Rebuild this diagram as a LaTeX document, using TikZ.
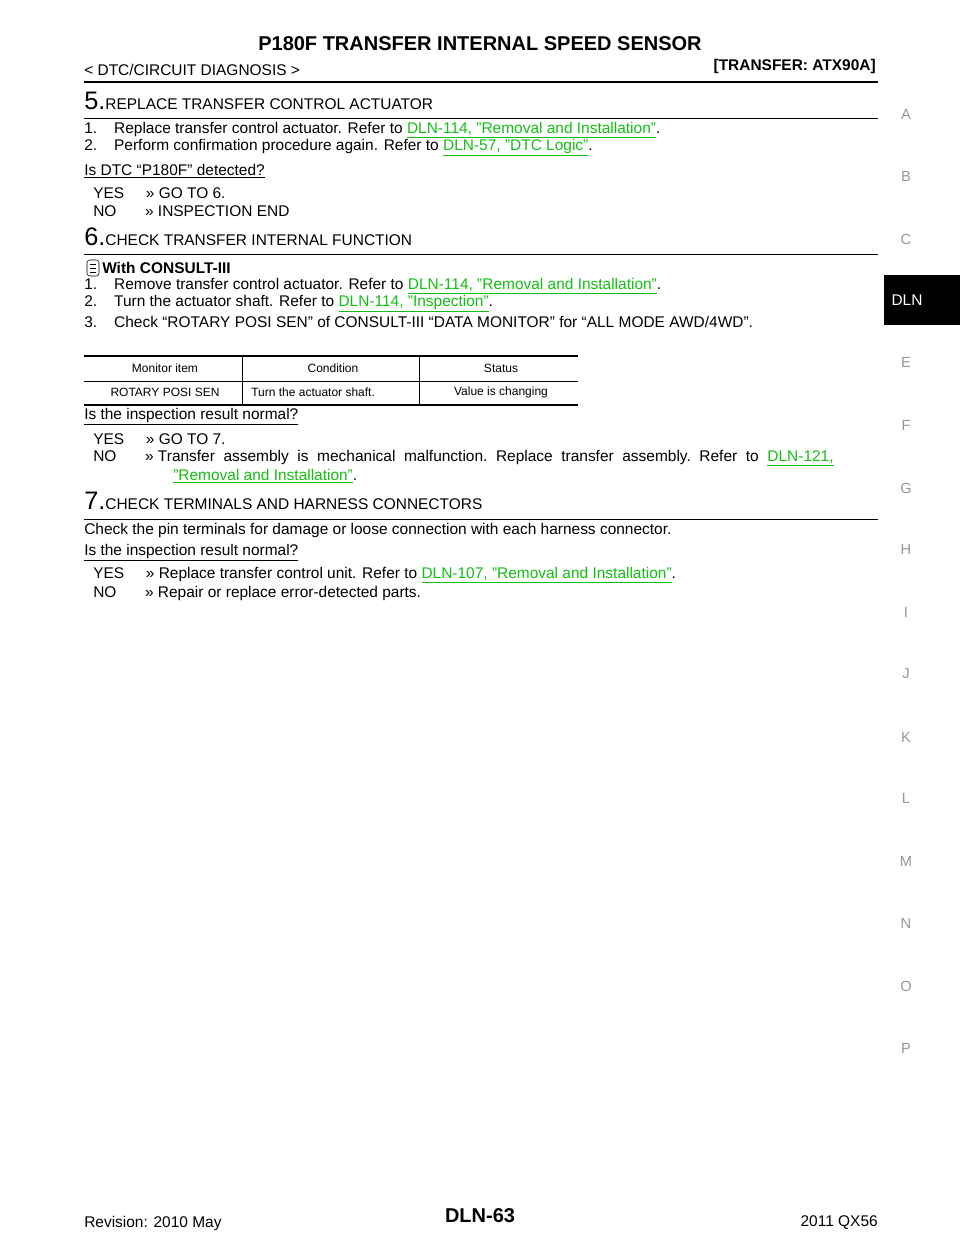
\documentclass[tikz,border=0pt]{standalone}
\usepackage{fontspec}
\setmainfont{Liberation Sans}
\usetikzlibrary{positioning}
\definecolor{linkgreen}{RGB}{20,190,20}
\definecolor{tabgrey}{RGB}{150,150,150}
\newcommand{\lnk}[1]{\textcolor{linkgreen}{\underline{#1}}}
\newcommand{\ul}[1]{\underline{#1}}
\tikzset{
  txt/.style={anchor=west,inner sep=0pt,font=\fontsize{11.6}{14}\selectfont},
  small/.style={inner sep=0pt,font=\fontsize{9}{11}\selectfont},
  head/.style={anchor=west,inner sep=0pt,font=\fontsize{11.6}{14}\selectfont},
  tabletter/.style={inner sep=0pt,text=tabgrey,font=\fontsize{11}{13}\selectfont},
}
\begin{document}
\begin{tikzpicture}[x=0.75pt,y=0.75pt,yscale=-1]
\useasboundingbox (0,0) rectangle (960,1242);

% page header
\node[inner sep=0pt,font=\bfseries\fontsize{15}{18}\selectfont] (title) at (480,44) {P180F TRANSFER INTERNAL SPEED SENSOR};
\node[txt] (sect) at (84,70) {< DTC/CIRCUIT DIAGNOSIS >};
\node[inner sep=0pt,anchor=east,font=\bfseries\fontsize{11.6}{14}\selectfont] (model) at (876,67) {[TRANSFER: ATX90A]};
\draw[line width=1.5pt] (84,82) -- (878,82);

% step 5
\node[head] (s5) at (84,101) {{\fontsize{19}{20}\selectfont 5.}REPLACE TRANSFER CONTROL ACTUATOR};
\draw[line width=0.6pt] (84,118) -- (878,118);
\node[txt] (s5a) at (84,130) {1.\hspace{1.1em}Replace transfer control actuator. Refer to \lnk{DLN-114, "Removal and Installation"}.};
\node[txt] (s5b) at (84,148) {2.\hspace{1.1em}Perform confirmation procedure again. Refer to \lnk{DLN-57, "DTC Logic"}.};
\node[txt] (s5q) at (84,171) {\ul{Is DTC “P180F” detected?}};
\node[txt] (s5y) at (93,193) {YES\hspace{1.4em}>> GO TO 6.};
\node[txt] (s5n) at (93,211) {NO\hspace{1.85em}>> INSPECTION END};

% step 6
\node[head] (s6) at (84,237) {{\fontsize{19}{20}\selectfont 6.}CHECK TRANSFER INTERNAL FUNCTION};
\draw[line width=0.6pt] (84,254) -- (878,254);
\draw[rounded corners=2pt] (87,260) rectangle (99,276);
\draw (90,264) -- (96,264) (90,268) -- (96,268) (90,272) -- (96,272);
\node[txt] (s6w) at (102,268) {\textbf{With CONSULT-III}};
\node[txt] (s6a) at (84,286) {1.\hspace{1.1em}Remove transfer control actuator. Refer to \lnk{DLN-114, "Removal and Installation"}.};
\node[txt] (s6b) at (84,304) {2.\hspace{1.1em}Turn the actuator shaft. Refer to \lnk{DLN-114, "Inspection"}.};
\node[txt] (s6c) at (84,322) {3.\hspace{1.1em}Check “ROTARY POSI SEN” of CONSULT-III “DATA MONITOR” for “ALL MODE AWD/4WD”.};

% table
\draw[line width=1.2pt] (84,356) -- (578,356);
\draw[line width=0.5pt] (84,381) -- (578,381);
\draw[line width=1.2pt] (84,405) -- (578,405);
\draw[line width=0.5pt] (242,356) -- (242,405) (419,356) -- (419,405);
\node[small] (h1) at (165,368) {Monitor item};
\node[small] (h2) at (333,368) {Condition};
\node[small] (h3) at (501,368) {Status};
\node[small] (c1) at (165,392) {ROTARY POSI SEN};
\node[small,anchor=west] (c2) at (251,392) {Turn the actuator shaft.};
\node[small] (c3) at (501,392) {Value is changing};

\node[txt] (s6q) at (84,417) {\ul{Is the inspection result normal?}};
\node[txt] (s6y) at (93,439) {YES\hspace{1.4em}>> GO TO 7.};
\node[txt] (s6n) at (93,458) {NO\hspace{1.85em}>> Transfer\ \ assembly\ \ is\ \ mechanical\ \ malfunction.\ \ Replace\ \ transfer\ \ assembly.\ \ Refer\ \ to\ \ \lnk{DLN-121,}};
\node[txt] (s6n2) at (173,476) {\lnk{"Removal and Installation"}.};

% step 7
\node[head] (s7) at (84,501) {{\fontsize{19}{20}\selectfont 7.}CHECK TERMINALS AND HARNESS CONNECTORS};
\draw[line width=0.6pt] (84,519) -- (878,519);
\node[txt] (s7a) at (84,530) {Check the pin terminals for damage or loose connection with each harness connector.};
\node[txt] (s7q) at (84,553) {\ul{Is the inspection result normal?}};
\node[txt] (s7y) at (93,575) {YES\hspace{1.4em}>> Replace transfer control unit. Refer to \lnk{DLN-107, "Removal and Installation"}.};
\node[txt] (s7n) at (93,593) {NO\hspace{1.85em}>> Repair or replace error-detected parts.};

% side index
\fill (884,275) rectangle (960,325);
\node[inner sep=0pt,text=white,font=\fontsize{11.6}{14}\selectfont] (dln) at (907,300) {DLN};
\foreach \l/\y in {A/114,B/176,C/239,E/362,F/425,G/488,H/549,I/612,J/674,K/737,L/798,M/861,N/923,O/986,P/1048}
  \node[tabletter] (tab\l) at (906,\y) {\l};

% footer
\node[txt] (rev) at (84,1223) {Revision: 2010 May};
\node[inner sep=0pt,font=\bfseries\fontsize{15}{18}\selectfont] (page) at (480,1216) {DLN-63};
\node[inner sep=0pt,anchor=east,font=\fontsize{11.6}{14}\selectfont] (car) at (878,1223) {2011 QX56};
\end{tikzpicture}
\end{document}
